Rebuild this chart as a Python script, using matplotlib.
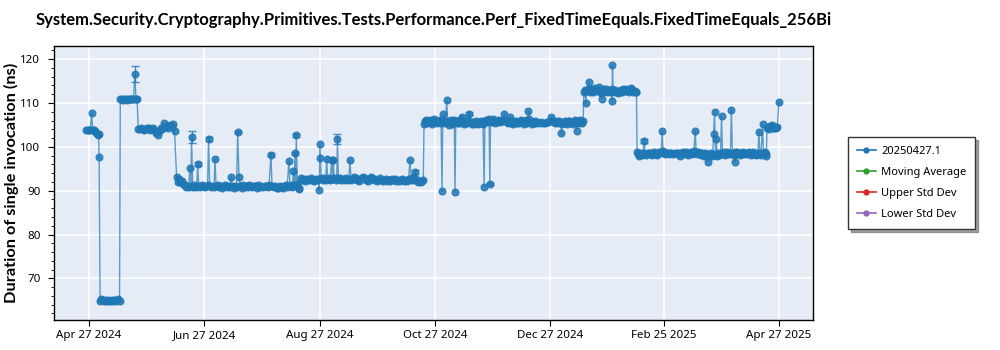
import numpy as np
import pandas as pd
import matplotlib
matplotlib.use("Agg")
import matplotlib.pyplot as plt
from matplotlib.lines import Line2D

plt.rcParams['font.family'] = ['Noto Sans', 'DejaVu Sans']

TITLE = "System.Security.Cryptography.Primitives.Tests.Performance.Perf_FixedTimeEquals.FixedTimeEquals_256Bi"
YLABEL = "Duration of single invocation (ns)"
BASE_DATE = "2024-04-27"

# ---- data: day offsets from BASE_DATE and durations (ns) ----
days_a = [-1.4, -0.7, 0.0, 0.6, 1.3, 1.9, 2.6, 3.3, 3.9, 4.5, 5.0, 5.3]
ns_a = [103.9, 103.8, 103.9, 103.8, 107.7, 103.9, 103.8, 103.6, 103.1, 102.8, 103.0, 97.7]

days_b = [5.8, 6.4, 7.1, 7.8, 8.5, 9.2, 9.9, 10.6, 11.3, 12.0, 12.7, 13.4, 14.1, 14.8, 15.5, 16.1]
ns_b = [64.8, 65.3, 65.1, 64.9, 65.0, 64.8, 65.1, 64.9, 64.8, 65.0, 64.9, 65.1, 64.8, 65.0, 65.2, 64.9]

days_c = [16.5, 17.2, 17.9, 18.6, 19.3, 20.0, 20.7, 21.4, 22.1, 22.8, 23.5, 24.2, 24.8, 25.4]
ns_c = [110.8, 110.9, 110.7, 110.9, 110.8, 110.7, 110.9, 110.8, 110.9, 110.8, 111.0, 116.7, 110.9, 110.8]

days_d = [26.0, 26.8, 27.6, 28.4, 29.2, 30.0, 30.8, 31.6, 32.4, 33.2, 34.0, 34.8, 35.6, 36.4,
          37.2, 38.0, 38.8, 39.6, 40.4, 41.2, 42.0, 42.8, 43.6, 44.4, 45.2]
ns_d = [104.1, 104.0, 104.2, 104.1, 103.9, 104.0, 104.3, 104.2, 103.8, 104.0, 104.4, 103.5, 103.2, 102.8,
        103.6, 104.2, 104.0, 105.5, 104.6, 104.8, 104.4, 105.0, 104.6, 105.2, 103.5]

days_e = [46.3, 46.8, 47.5, 48.2, 49.0, 49.8, 50.5, 51.3, 52.0, 52.7, 53.3, 53.8, 54.2, 54.8, 55.5,
          56.3, 57.0, 57.4, 58.0, 58.8, 59.6, 60.4, 61.2, 62.0, 62.7, 63.2, 63.8, 64.6, 65.4, 66.1,
          66.6, 67.2, 68.0, 68.8, 69.6, 70.4, 71.2, 72.0, 72.8, 73.6, 74.4, 75.2, 75.8, 76.6, 77.4,
          78.0, 78.6, 79.3, 80.0, 80.8, 81.6, 82.4, 83.2, 84.0, 84.8, 85.6, 86.4, 87.2, 88.0, 88.8,
          89.6, 90.4, 91.2, 92.0, 92.8, 93.6, 94.4, 95.2, 96.2, 96.8, 97.6, 98.4, 99.2, 100.0, 100.8,
          101.6, 102.4, 103.2, 104.0, 104.8, 105.7, 106.3, 107.0, 107.6, 108.0, 108.5, 108.9, 109.3,
          109.6, 110.2, 110.8, 111.3]
ns_e = [93.1, 92.0, 92.6, 91.9, 92.3, 91.6, 91.2, 90.8, 91.0, 90.9, 95.1, 91.1, 102.3, 90.9, 91.2,
        90.8, 91.0, 96.1, 91.1, 90.9, 91.2, 91.0, 90.8, 91.1, 91.3, 101.8, 91.0, 90.9, 91.1, 90.8,
        97.2, 91.0, 91.2, 90.9, 91.1, 90.7, 91.0, 91.3, 90.9, 91.0, 90.8, 93.2, 91.0, 90.6, 91.1,
        90.8, 103.4, 93.2, 91.0, 90.7, 91.2, 90.8, 91.1, 90.9, 91.3, 91.0, 90.8, 91.1, 91.0, 90.7,
        91.2, 90.9, 91.0, 90.8, 91.1, 91.0, 90.9, 91.2, 98.2, 91.0, 90.9, 91.1, 90.7, 90.6, 91.0,
        90.8, 90.5, 91.0, 91.2, 90.9, 96.7, 91.0, 91.4, 90.8, 94.5, 91.3, 98.5, 91.0,
        102.6, 91.5, 90.6, 90.3]

days_f = [112.0, 112.8, 113.6, 114.4, 115.2, 116.0, 116.8, 117.6, 118.4, 119.2, 120.0, 120.8, 121.5,
          121.8, 122.1, 122.4, 122.8, 123.6, 124.4, 125.2, 125.7, 126.2, 127.0, 127.6, 128.3, 128.8,
          129.2, 129.7, 130.4, 131.0, 131.4, 131.9, 132.6, 133.4, 134.2, 135.0, 135.8, 136.6, 137.4,
          138.0, 138.6, 139.4, 140.2, 141.0, 141.8, 142.6, 143.4, 144.2, 145.0, 145.8, 146.6, 147.4,
          148.2, 149.0, 149.8, 150.6, 151.4, 152.2, 153.0, 153.8, 154.6, 155.4, 156.2, 157.0, 157.8,
          158.6, 159.4, 160.2, 161.0, 161.8, 162.6, 163.4, 164.2, 165.0, 165.8, 166.6, 167.4, 168.2,
          169.0, 169.8, 170.4, 171.0, 171.8, 172.6, 173.2, 173.8, 174.6, 175.4, 176.2, 176.8]
ns_f = [92.8, 92.4, 92.6, 92.3, 92.7, 92.5, 92.4, 92.8, 92.5, 92.3, 92.6, 92.4, 92.7,
        90.2, 100.7, 97.4, 92.9, 92.5, 92.8, 92.4, 97.3, 92.6, 92.9, 92.5, 97.1, 92.6,
        97.0, 92.8, 92.5, 92.9, 101.8, 92.6, 93.0, 92.5, 92.7, 92.4, 92.8, 92.5, 92.6,
        97.0, 92.4, 92.7, 93.1, 92.8, 92.5, 92.2, 92.6, 93.0, 93.2, 92.8, 92.5, 92.3,
        92.7, 93.1, 92.8, 92.4, 92.6, 92.3, 92.5, 92.8, 92.4, 92.1, 92.4, 92.6, 92.3,
        92.5, 92.2, 92.6, 92.4, 92.7, 92.3, 92.5, 92.2, 92.4, 92.6, 92.3, 92.5, 92.2,
        92.6, 97.1, 92.4, 92.8, 92.5, 94.3, 92.6, 92.0, 92.3, 91.9, 92.2, 92.4]

days_g = [177.2, 177.8, 178.4, 179.0, 179.6, 180.2, 180.8, 181.4, 182.0, 182.6, 183.2, 183.8, 184.4,
          185.0, 185.6, 186.2, 186.7, 187.1, 187.4, 187.9, 188.5, 189.2, 189.7, 190.3, 190.9, 191.5,
          192.1, 192.7, 193.2, 193.6, 194.0, 194.6, 195.2, 195.8, 196.4, 197.0, 197.5, 198.0, 198.6,
          199.2, 199.8, 200.4, 201.2, 201.8, 202.4, 203.0, 203.6, 204.2, 204.8, 205.4, 206.0, 206.6,
          207.2, 207.8, 208.4, 209.0, 209.4, 210.0, 210.6, 211.2, 211.6, 212.0, 212.4, 213.0, 213.6,
          214.2, 214.8, 215.4, 216.0, 216.6, 217.2, 217.8, 218.4, 219.0, 219.7, 220.3, 220.9, 221.5,
          222.1, 222.7, 223.3, 223.9, 224.5, 225.1, 225.7, 226.3, 226.9, 227.5, 228.1, 228.7, 229.3,
          229.9, 230.5, 231.1, 231.8, 232.4, 233.0, 233.6, 234.2, 234.8, 235.4, 236.0, 236.6, 237.2,
          238.0, 239.0, 240.0, 241.0, 242.0, 243.0, 244.0, 244.5, 245.2, 245.8, 246.4, 247.0, 247.6,
          248.2, 248.8, 249.4, 249.9, 250.4, 251.0, 251.6, 252.2, 252.8, 253.4, 254.1, 254.6, 255.2,
          255.8, 256.4, 257.0, 257.5, 258.0, 258.5, 259.1, 259.7, 260.3, 260.9, 261.4]
ns_g = [105.2, 105.8, 106.1, 105.5, 105.9, 106.2, 105.6, 105.3, 105.9, 106.3, 105.7, 105.4, 106.0,
        105.8, 106.1, 105.5, 89.9, 105.6, 107.6, 105.9, 105.4, 110.7, 106.0, 105.0, 105.7, 106.2,
        105.3, 105.8, 106.1, 89.8, 105.9, 105.5, 106.0, 105.4, 105.8, 106.3, 106.7, 105.6, 105.2,
        105.9, 105.5, 106.0, 107.6, 105.7, 105.3, 105.6, 105.2, 105.5, 105.9, 105.4, 105.1, 105.6,
        106.0, 105.5, 105.3, 90.9, 105.8, 106.2, 105.6, 105.9, 106.4, 91.5, 105.7, 105.9, 106.3,
        105.8, 105.5, 106.0, 105.7, 106.1, 105.6, 105.9, 106.2, 105.8, 107.6, 106.0, 105.7, 105.4,
        105.9, 106.8, 105.5, 105.8, 105.3, 105.6, 105.9, 105.4, 105.7, 105.5, 105.9, 106.2, 105.6,
        105.3, 105.8, 106.1, 105.5, 108.2, 106.3, 105.6, 105.2, 105.7, 105.4, 105.8, 105.5, 105.6,
        105.5, 105.6, 105.4, 105.5, 105.6, 105.7, 105.8, 106.8, 105.9, 105.6, 105.4, 105.6, 105.8,
        105.5, 105.9, 105.6, 103.2, 105.3, 105.7, 106.0, 105.5, 105.2, 105.8, 106.0, 105.4, 105.7,
        105.2, 105.8, 106.1, 105.4, 103.7, 105.9, 105.5, 106.1, 105.7, 105.4, 105.8]

days_h = [261.8, 262.3, 262.8, 263.3, 263.9, 264.4, 264.9, 265.5, 266.1, 266.7, 267.3, 267.9, 268.5,
          269.1, 269.7, 270.3, 270.8, 271.3, 271.8, 272.4, 273.0, 273.6, 274.2, 274.8, 275.4, 276.0,
          276.5, 276.7, 276.9, 277.3, 277.9, 278.5, 279.1, 279.7, 280.3, 280.9, 281.5, 282.1, 282.7,
          283.3, 283.9, 284.5, 285.1, 285.7, 286.3, 286.8, 287.4, 288.0, 288.6, 289.2, 289.6]
ns_h = [112.6, 113.0, 110.1, 112.8, 113.2, 114.8, 112.5, 112.9, 113.3, 112.6, 112.9, 113.4, 112.7,
        113.0, 113.6, 112.8, 112.2, 111.0, 112.6, 113.1, 112.7, 113.3, 112.5, 112.9, 112.4, 112.8,
        113.1, 110.5, 118.6, 112.7, 112.4, 112.9, 112.6, 112.3, 112.8, 112.5, 112.9, 112.6, 113.1,
        112.7, 113.2, 112.8, 113.0, 112.6, 113.1, 113.4, 112.9, 112.5, 112.8, 112.6, 112.4]

days_i = [289.9, 290.5, 291.1, 291.7, 292.3, 293.0, 293.7, 294.3, 294.9, 295.5, 296.1, 296.7, 297.3,
          297.9, 298.5, 299.1, 299.7, 300.3, 300.9, 301.5, 302.1, 302.7, 303.2, 303.7, 304.3, 304.9,
          305.5, 306.1, 306.7, 307.3, 308.0, 309.0, 310.0, 311.0, 311.6, 312.2, 312.8, 313.4, 314.0,
          314.6, 315.2, 315.8, 316.4, 317.0, 317.6, 318.2, 318.8, 319.4, 320.0, 320.7, 321.2, 321.8,
          322.4, 323.0, 323.6, 324.2, 324.8, 325.4, 326.0, 326.6, 327.2, 327.7, 328.2, 328.8, 329.4,
          330.0, 330.4, 330.9, 331.4, 331.8, 332.3, 332.9, 333.5, 334.1, 334.6, 335.1, 335.7, 336.3,
          336.9, 337.5, 338.1, 338.7, 339.3, 339.8, 340.4, 341.0, 341.5, 341.9, 342.4, 343.0, 343.6,
          344.2, 344.8, 345.4, 346.0, 346.6, 347.2, 347.8, 348.4, 349.0, 349.6, 350.2, 350.8, 351.4,
          352.0, 352.6, 353.2, 353.8, 354.4, 354.9, 355.5, 356.3, 356.8, 357.4, 357.9, 358.3]
ns_i = [98.8, 98.3, 98.0, 98.5, 98.2, 98.6, 101.3, 98.4, 98.1, 98.5, 98.7, 98.3, 98.6,
        98.2, 98.5, 98.8, 98.4, 98.1, 98.6, 98.9, 98.5, 98.9, 103.7, 99.0, 98.6, 98.3,
        98.7, 98.5, 98.4, 98.6, 98.5, 98.4, 98.6, 98.5, 98.7, 98.3, 98.0, 98.5, 98.8,
        98.3, 98.6, 98.9, 98.5, 98.2, 98.7, 98.9, 98.4, 98.7, 99.0, 103.7, 98.8, 98.4,
        98.9, 98.5, 98.2, 98.7, 98.4, 98.0, 98.5, 97.9, 98.3, 96.6, 98.1, 98.6, 97.8,
        98.4, 103.0, 108.0, 98.2, 101.7, 97.9, 98.5, 98.1, 98.6, 107.0, 98.3, 98.8, 98.2,
        98.6, 98.9, 98.4, 98.7, 98.3, 108.5, 98.6, 98.2, 98.8, 96.5, 98.4, 98.9, 98.5,
        98.2, 98.7, 98.4, 98.9, 98.5, 98.3, 98.7, 98.4, 98.8, 98.5, 98.2, 98.6, 98.9,
        98.4, 98.1, 98.5, 98.3, 103.3, 98.6, 98.2, 105.1, 98.5, 98.9, 98.3, 98.0]

days_j = [358.7, 359.3, 359.9, 360.5, 361.1, 361.7, 362.3, 362.9, 363.5, 364.1, 365.0]
ns_j = [104.3, 104.6, 104.1, 104.8, 105.0, 104.4, 104.2, 104.6, 104.3, 104.5, 110.3]

# error bars (day offset, centre, half-width)
err_days = [24.2, 54.2, 57.4, 63.2, 78.6, 96.2, 108.9, 109.6, 131.4, 172.6, 201.2, 212.0, 293.7]
err_mid = [116.7, 102.3, 96.1, 101.8, 103.4, 98.2, 98.5, 102.6, 101.8, 94.3, 107.6, 91.5, 101.3]
err_half = [1.8, 1.4, 0.4, 0.5, 0.3, 0.3, 0.4, 0.4, 1.2, 0.4, 0.3, 0.3, 0.4]

tick_labels = ["Apr 27 2024", "Jun 27 2024", "Aug 27 2024", "Oct 27 2024",
               "Dec 27 2024", "Feb 25 2025", "Apr 27 2025"]
legend_labels = ["20250427.1", "Moving Average", "Upper Std Dev", "Lower Std Dev"]
legend_colors = ["#1f77b4", "#2ca02c", "#d62728", "#9467bd"]

# ---- assemble ----
all_days = np.array(days_a + days_b + days_c + days_d + days_e + days_f + days_g + days_h + days_i + days_j)
all_ns = np.array(ns_a + ns_b + ns_c + ns_d + ns_e + ns_f + ns_g + ns_h + ns_i + ns_j)
base = pd.Timestamp(BASE_DATE)
x = base + pd.to_timedelta(all_days, unit="D")
ex = base + pd.to_timedelta(np.array(err_days), unit="D")

fig = plt.figure(figsize=(10, 3.5), dpi=100)
ax = fig.add_axes([0.0543, 0.0857, 0.7587, 0.7829])
ax.set_facecolor("#e5ecf6")
ax.grid(True, color="white", linewidth=1.1)
ax.set_axisbelow(True)

blue = "#1f77b4"
ax.plot(x, all_ns, color=blue, linewidth=1.0, alpha=0.7, zorder=2)
ax.plot(x, all_ns, linestyle="none", marker="o", markersize=5.0, color=blue,
        markeredgewidth=0.8, alpha=0.85, zorder=3)
ax.errorbar(ex, err_mid, yerr=err_half, fmt="none", ecolor=blue, elinewidth=1,
            capsize=3, capthick=1, alpha=0.8, zorder=3)

ax.set_xlim(pd.Timestamp("2024-04-08 14:00"), pd.Timestamp("2025-05-15"))
ax.set_ylim(60.5, 123.0)
ax.set_xticks(pd.to_datetime(tick_labels, format="%b %d %Y"))
ax.set_xticklabels(tick_labels, fontsize=8.3)
ax.set_yticks([70, 80, 90, 100, 110, 120])
ax.set_yticks(np.arange(62, 123, 2), minor=True)
ax.tick_params(axis="y", labelsize=8.3, length=4, pad=6)
ax.tick_params(axis="y", which="minor", length=2)
ax.tick_params(axis="x", length=4)
for s in ax.spines.values():
    s.set_color("black")
    s.set_linewidth(1)

ax.set_ylabel(YLABEL, fontsize=11.8, fontweight="bold", family=["Lato", "DejaVu Sans"])
ax.yaxis.set_label_coords(-0.0465, 0.5)
ax.set_title(TITLE, fontsize=12, fontweight="bold", family=["Lato", "DejaVu Sans"], pad=15)

handles = [Line2D([0], [0], color=c, marker="o", markersize=3.5, linewidth=1.2) for c in legend_colors]
leg = ax.legend(handles, legend_labels, loc="upper left", bbox_to_anchor=(1.046, 0.668),
                fontsize=8, frameon=True, fancybox=False, shadow=True,
                handlelength=1.7, handletextpad=0.5, borderpad=0.8, labelspacing=0.9,
                borderaxespad=0)
leg.get_frame().set_edgecolor("#333333")
leg.get_frame().set_linewidth(1)

fig.savefig("out.png", dpi=100)
